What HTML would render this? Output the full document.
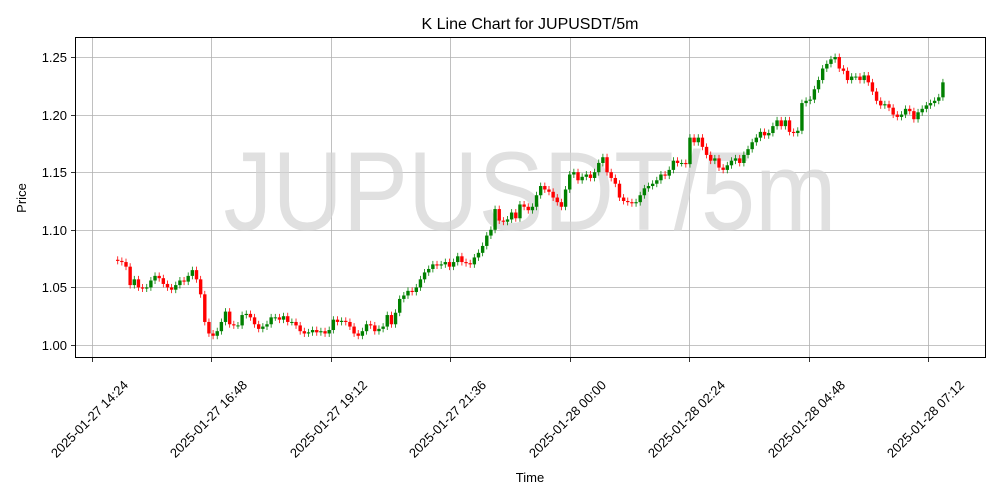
<!DOCTYPE html>
<html><head><meta charset="utf-8"><style>
html,body{margin:0;padding:0;background:#fff;}
svg{display:block;font-family:"Liberation Sans","DejaVu Sans",sans-serif;}
</style></head><body>
<svg id="chart" width="1000" height="500" xmlns="http://www.w3.org/2000/svg">
<rect x="0" y="0" width="1000" height="500" fill="#fff"/>
<text x="530" y="29" font-size="16" text-anchor="middle">K Line Chart for JUPUSDT/5m</text>
<g id="grid"></g>
<text x="530" y="230" font-size="112" fill="#d3d3d3" fill-opacity="0.7" text-anchor="middle" textLength="613" lengthAdjust="spacingAndGlyphs">JUPUSDT/5m</text>
<g id="candles"></g>
<rect x="75.5" y="37.5" width="910" height="320" fill="none" stroke="#000" stroke-width="1"/>
<g id="axes"></g>
<text x="530" y="482" font-size="13" text-anchor="middle">Time</text>
<text x="26" y="198" font-size="13" text-anchor="middle" transform="rotate(-90 26 198)">Price</text>
</svg>
<script>
const closes = [
1.073,1.072,1.068,1.052,1.057,1.050,1.049,1.050,1.056,1.060,
1.058,1.053,1.050,1.048,1.052,1.056,1.055,1.060,1.065,1.057,
1.044,1.020,1.010,1.008,1.012,1.020,1.029,1.018,1.017,1.017,
1.026,1.027,1.024,1.018,1.014,1.016,1.018,1.024,1.024,1.022,
1.025,1.020,1.020,1.017,1.012,1.010,1.011,1.013,1.011,1.012,
1.010,1.013,1.022,1.020,1.021,1.020,1.016,1.010,1.008,1.012,
1.018,1.017,1.012,1.014,1.016,1.026,1.018,1.028,1.040,1.043,
1.047,1.046,1.050,1.057,1.063,1.066,1.070,1.069,1.070,1.072,
1.068,1.072,1.077,1.072,1.071,1.070,1.076,1.080,1.086,1.095,
1.100,1.118,1.108,1.107,1.109,1.115,1.110,1.122,1.120,1.117,
1.120,1.130,1.138,1.135,1.133,1.128,1.124,1.120,1.135,1.148,
1.150,1.143,1.146,1.148,1.145,1.150,1.158,1.163,1.150,1.145,
1.140,1.128,1.125,1.124,1.123,1.124,1.130,1.136,1.138,1.140,
1.143,1.148,1.147,1.152,1.160,1.158,1.158,1.157,1.180,1.176,
1.180,1.172,1.165,1.160,1.162,1.154,1.152,1.156,1.160,1.162,
1.158,1.165,1.170,1.176,1.180,1.185,1.182,1.184,1.190,1.195,
1.190,1.195,1.185,1.184,1.186,1.210,1.212,1.213,1.222,1.230,
1.240,1.244,1.248,1.250,1.240,1.238,1.230,1.233,1.233,1.230,
1.234,1.228,1.220,1.212,1.208,1.209,1.206,1.200,1.198,1.200,
1.205,1.203,1.196,1.202,1.205,1.208,1.210,1.212,1.215,1.228];
const firstOpen = 1.074;
const startMinute = 31;      // first candle: 14:55 = 14:24 + 31 min
const stepMinutes = 5;
const wick = 0.003;
const yTicks = [1.00,1.05,1.10,1.15,1.20,1.25];
const yTickLabels = ["1.00","1.05","1.10","1.15","1.20","1.25"];
const xTickMinutes = [0,144,288,432,576,720,864,1008];
const xTickLabels = ["2025-01-27 14:24","2025-01-27 16:48","2025-01-27 19:12","2025-01-27 21:36","2025-01-28 00:00","2025-01-28 02:24","2025-01-28 04:48","2025-01-28 07:12"];

const NS="http://www.w3.org/2000/svg";
const xS = m => 92 + m*(836/1008);
const yS = p => 345 - (p-1.00)*(288/0.25);
function mk(tag, attrs, parent){const e=document.createElementNS(NS,tag);for(const k in attrs)e.setAttribute(k,attrs[k]);parent.appendChild(e);return e;}
const grid=document.getElementById('grid'), axes=document.getElementById('axes'), cg=document.getElementById('candles');

yTicks.forEach((v,i)=>{
  const y=Math.round(yS(v))+0.5;
  const g=mk('line',{x1:75.5,x2:985.5,y1:y,y2:y,stroke:'#b0b0b0','stroke-width':0.8},grid);
  
  
  const t=mk('line',{x1:71,x2:75.5,y1:y,y2:y,stroke:'#000','stroke-width':0.8},axes);
  
  
  const l=mk('text',{x:67,y:y+4.5,'font-size':13,'text-anchor':'end'},axes);
  l.textContent=yTickLabels[i];
  
  
});
xTickMinutes.forEach((m,i)=>{
  const x=Math.round(xS(m))+0.5;
  const g=mk('line',{x1:x,x2:x,y1:37.5,y2:357.5,stroke:'#b0b0b0','stroke-width':0.8},grid);
  
  
  const t=mk('line',{x1:x,x2:x,y1:357.5,y2:362,stroke:'#000','stroke-width':0.8},axes);
  
  
  const cx=x-3, cy=419;
  const l=mk('text',{x:cx,y:cy+4.5,'font-size':13,'text-anchor':'middle',transform:`rotate(-45 ${cx} ${cy})`},axes);
  l.textContent=xTickLabels[i];
  
  
});
let prev=firstOpen;
closes.forEach((c,i)=>{
  const o=prev; prev=c;
  const x=xS(startMinute+i*stepMinutes);
  const col=c>=o?'#008000':'#ff0000';
  const hi=Math.max(o,c)+wick, lo=Math.min(o,c)-wick;
  const w=mk('line',{x1:x,x2:x,y1:yS(hi),y2:yS(lo),stroke:col,'stroke-width':0.8},cg);
  
  
  const top=yS(Math.max(o,c)), bot=yS(Math.min(o,c));
  const b=mk('rect',{x:x-1.7,y:top,width:3.4,height:Math.max(1,bot-top),fill:col},cg);
  
  
});
</script>
</body></html>
